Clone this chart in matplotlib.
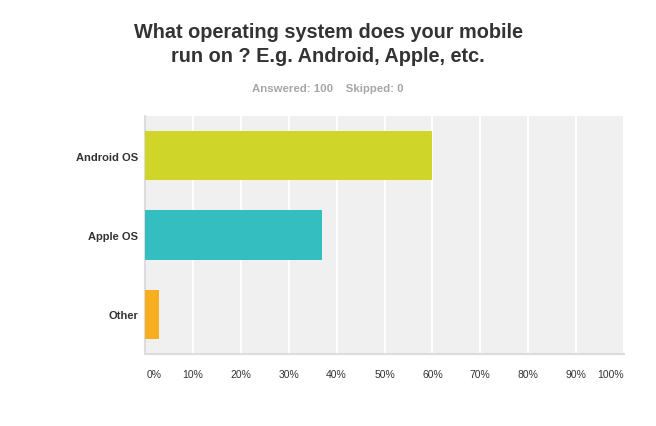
import matplotlib.pyplot as plt
import numpy as np

plt.rcParams['font.family'] = ['Liberation Sans', 'DejaVu Sans']

# survey answers
categories = ['Android OS', 'Apple OS', 'Other']
percents = [60, 37, 3]
bar_colors = ['#d0d52a', '#34bec0', '#f7ae20']
tick_vals = list(range(0, 101, 10))
tick_text = ['%d%%' % v for v in tick_vals]
title_lines = ['What operating system does your mobile', 'run on ? E.g. Android, Apple, etc.']

fig = plt.figure(figsize=(6.56, 4.27), dpi=100)
ax = fig.add_axes([145/656, 1 - 355/427, 479/656, 238/427])
ax.set_facecolor('#f0f0f0')

y = np.arange(len(categories))
ax.barh(y, percents, height=0.62, color=bar_colors, zorder=3)
ax.set_ylim(len(categories) - 0.5, -0.5)
ax.set_xlim(0, 100)

# white vertical gridlines
ax.set_xticks(tick_vals)
ax.grid(axis='x', color='white', lw=1.5, zorder=1)
ax.set_xticklabels([])
ax.tick_params(axis='both', length=0)
for v, t in zip(tick_vals, tick_text):
    ha = 'center'
    if v == 0:
        ha = 'left'
    elif v == 100:
        ha = 'right'
    ax.text(v + (0.4 if v == 0 else 0), -0.085, t, transform=ax.get_xaxis_transform(),
            ha=ha, va='center', fontsize=7.5, color='#333333')

ax.set_yticks(y)
ax.set_yticklabels(categories, fontsize=8, fontweight='bold', color='#333333')
ax.tick_params(axis='y', pad=5)

for s in ['top', 'right']:
    ax.spines[s].set_visible(False)
ax.spines['left'].set_color('#dddddd')
ax.spines['bottom'].set_color('#dddddd')
ax.spines['left'].set_linewidth(1.5)
ax.spines['bottom'].set_linewidth(1.5)

for i, line in enumerate(title_lines):
    fig.text(328/656, 1 - (32 + 25*i)/427, line, ha='center', va='center',
             fontsize=14.3, fontweight='bold', color='#333333')
fig.text(328/656, 1 - 89/427, 'Answered: 100    Skipped: 0', ha='center', va='center',
         fontsize=8.2, fontweight='bold', color='#a6a6a6')

fig.savefig('out.png', dpi=100)
